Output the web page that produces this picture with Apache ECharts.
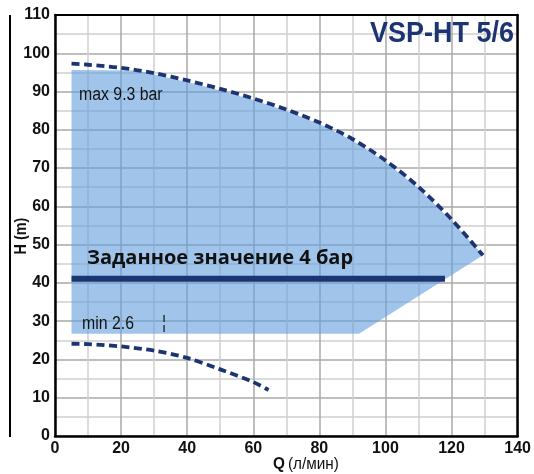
<!DOCTYPE html>
<html><head><meta charset="utf-8">
<script src="https://cdn.jsdelivr.net/npm/echarts@6/dist/echarts.min.js"></script>
<style>html,body{margin:0;padding:0;background:#fff}#c{width:534px;height:474px}</style>
</head><body><div id="c"></div><script>
const chartTitle = 'VSP-HT 5/6';
const xAxisName = ['Q', '(л/мин)'];
const yAxisName = 'H (m)';
const xTickLabels = [0, 20, 40, 60, 80, 100, 120, 140];
const yTickLabels = [0, 10, 20, 30, 40, 50, 60, 70, 80, 90, 100, 110];
const maxCurveQ = [5, 10, 20, 30, 40, 50, 60, 70, 80, 90, 100, 110, 120, 129.5];
const maxCurveH = [97.3, 97.0, 96.2, 94.8, 92.9, 90.7, 88.2, 85.3, 81.9, 77.6, 72.0, 65.1, 56.6, 47.2];
const minCurveQ = [5, 10, 20, 30, 40, 50, 60, 64.6];
const minCurveH = [24.1, 24.0, 23.4, 22.3, 20.4, 17.4, 14.1, 12.0];
const areaQ = [5, 25, 30, 40, 50, 60, 70, 80, 90, 100, 110, 120, 129.5, 92, 5];
const areaH = [95.6, 95.5, 94.4, 92.5, 90.3, 87.8, 84.9, 81.5, 77.2, 71.6, 64.7, 56.2, 47.2, 26.7, 26.7];
const setpointQ = [5, 118];
const setpointH = [41.1, 41.1];
const minMarkQ = [33, 33];
const minMarkH = [27.2, 31.7];
const maxLabel = 'max 9.3 bar';
const minLabel = 'min 2.6';
const setpointLabel = 'Заданное значение 4 бар';

const NAVY = '#1d3473';
const SANS = '"Liberation Sans", Arial, sans-serif';
const pairs = (xs, ys) => xs.map((x, i) => [x, ys[i]]);

const chart = echarts.init(document.getElementById('c'));
const tickFmt = list => v => list.includes(v) ? String(v) : '';

chart.setOption({
  animation: false,
  backgroundColor: '#fff',
  grid: { left: 55, right: 13, top: 15, bottom: 38 },
  xAxis: [{
    type: 'value', min: 0, max: 140, interval: 10,
    axisLine: { show: true, onZero: false, lineStyle: { color: '#000', width: 2.5 } },
    axisTick: { show: false },
    axisLabel: { formatter: tickFmt(xTickLabels), color: '#111', fontFamily: SANS, fontWeight: 'bold', fontSize: 16, margin: 5, showMaxLabel: true, showMinLabel: true },
    splitLine: { show: true, lineStyle: { color: ['#a9a9a9', '#cfcfcf'], width: 1.5 } }
  }, {
    type: 'value', min: 0, max: 140, position: 'top',
    axisLine: { show: true, onZero: false, lineStyle: { color: '#000', width: 2 } },
    axisTick: { show: false }, axisLabel: { show: false }, splitLine: { show: false }
  }],
  yAxis: [{
    type: 'value', min: 0, max: 110, interval: 5,
    axisLine: { show: true, onZero: false, lineStyle: { color: '#000', width: 2.5 } },
    axisTick: { show: false },
    axisLabel: { formatter: tickFmt(yTickLabels), color: '#111', fontFamily: SANS, fontWeight: 'bold', fontSize: 16, margin: 5 },
    splitLine: { show: true, lineStyle: { color: ['#a9a9a9', '#cfcfcf'], width: 1.5 } }
  }, {
    type: 'value', min: 0, max: 110, position: 'right',
    axisLine: { show: true, onZero: false, lineStyle: { color: '#000', width: 2.5 } },
    axisTick: { show: false }, axisLabel: { show: false }, splitLine: { show: false }
  }],
  series: [
    {
      type: 'custom', silent: true, z: 1,
      data: [[areaQ[0], areaH[0]]],
      renderItem: (params, api) => {
        const pts = areaQ.map((q, i) => api.coord([q, areaH[i]]));
        return { type: 'polygon', shape: { points: pts }, style: { fill: 'rgba(98,158,220,0.6)' } };
      }
    },
    {
      type: 'line', z: 3, data: pairs(maxCurveQ, maxCurveH), smooth: 0.3, showSymbol: false, silent: true,
      lineStyle: { color: NAVY, width: 3.8, type: [8, 4.5] }
    },
    {
      type: 'line', z: 3, data: pairs(minCurveQ, minCurveH), smooth: 0.3, showSymbol: false, silent: true,
      lineStyle: { color: NAVY, width: 3.8, type: [8, 4.5] }
    },
    {
      type: 'line', z: 3, data: pairs(setpointQ, setpointH), showSymbol: false, silent: true,
      lineStyle: { color: NAVY, width: 6, cap: 'butt' }
    },
    {
      type: 'line', z: 3, data: pairs(minMarkQ, minMarkH), showSymbol: false, silent: true,
      lineStyle: { color: '#111', width: 1.2, type: [7, 3] }
    }
  ],
  graphic: [
    { type: 'line', shape: { x1: 10, y1: 15, x2: 10, y2: 437 }, style: { stroke: '#000', lineWidth: 2 } },
    { type: 'text', x: 514, y: 34, scaleX: 0.93, style: { text: chartTitle, fill: NAVY, font: 'bold 29px ' + SANS, textAlign: 'right', textVerticalAlign: 'middle' }, z: 10 },
    { type: 'text', x: 79, y: 95, scaleX: 0.88, style: { text: maxLabel, fill: '#111', font: '18px ' + SANS, textVerticalAlign: 'middle' }, z: 10 },
    { type: 'text', x: 82, y: 324, scaleX: 0.88, style: { text: minLabel, fill: '#111', font: '18px ' + SANS, textVerticalAlign: 'middle' }, z: 10 },
    { type: 'text', x: 87, y: 258, style: { text: setpointLabel, fill: '#111', font: 'bold 20px "Open Sans", "Noto Sans", sans-serif', textVerticalAlign: 'middle' }, z: 10 },
    { type: 'text', x: 22, y: 236, rotation: Math.PI / 2, scaleX: 0.9, style: { text: yAxisName, fill: '#111', font: 'bold 16px ' + SANS, textAlign: 'center', textVerticalAlign: 'middle' }, z: 10 },
    { type: 'text', x: 306, y: 464, scaleX: 0.9, style: {
        text: '{b|' + xAxisName[0] + '} {r|' + xAxisName[1] + '}', textAlign: 'center', textVerticalAlign: 'middle',
        rich: { b: { fontFamily: SANS, fontWeight: 'bold', fontSize: 17, fill: '#111' }, r: { fontFamily: SANS, fontSize: 17, fill: '#111' } }
      }, z: 10 }
  ]
});
</script></body></html>
